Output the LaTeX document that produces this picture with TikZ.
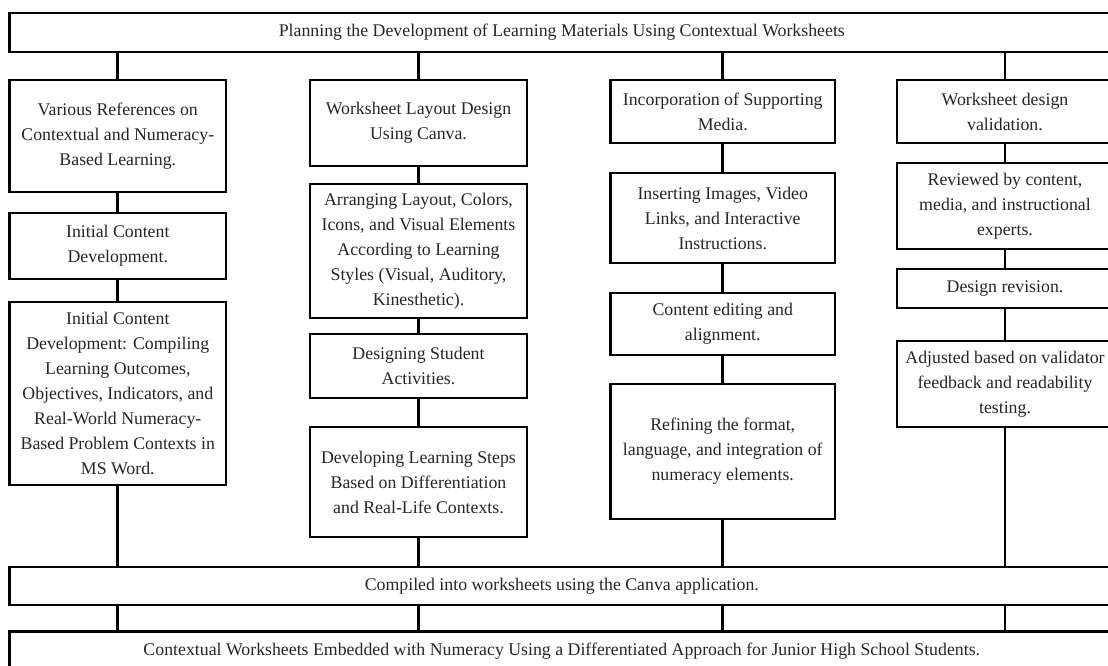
\documentclass[tikz,border=0pt]{standalone}
\usepackage{fontspec}
\setmainfont{Liberation Serif}
\begin{document}
\begin{tikzpicture}[x=1pt,y=-1pt,
  box/.style={draw=black, line width=2.9pt, fill=white, align=center, inner sep=2pt,
    text=black!85, font=\fontsize{17.8}{25}\selectfont},
  conn/.style={draw=black, line width=2.9pt}]
\useasboundingbox (0,0) rectangle (1108,666);
\clip (0,0) rectangle (1108,666);
% top and bottom bars
\node[box, minimum width=1104.4pt, minimum height=39pt] (top) at (561.8,32.5) {Planning the Development of Learning Materials Using Contextual Worksheets};
\node[box, minimum width=1104.4pt, minimum height=38pt] (comp) at (561.8,586) {Compiled into worksheets using the Canva application.};
\node[box, minimum width=1104.4pt, minimum height=39pt] (bot) at (561.8,651) {Contextual Worksheets Embedded with Numeracy Using a Differentiated Approach for Junior High School Students.};
% column 1
\node[box, minimum width=216.4pt, minimum height=112pt] (a1) at (117.8,136) {Various References on\\Contextual and Numeracy-\\Based Learning.};
\node[box, minimum width=216.4pt, minimum height=66pt] (a2) at (117.8,246) {Initial Content\\Development.};
\node[box, minimum width=216.4pt, minimum height=183pt] (a3) at (117.8,393.5) {Initial Content\\Development: Compiling\\Learning Outcomes,\\Objectives, Indicators, and\\Real-World Numeracy-\\Based Problem Contexts in\\MS Word.};
% column 2
\node[box, minimum width=217pt, minimum height=86pt] (b1) at (418.5,123) {Worksheet Layout Design\\Using Canva.};
\node[box, minimum width=217pt, minimum height=134pt] (b2) at (418.5,251) {Arranging Layout, Colors,\\Icons, and Visual Elements\\According to Learning\\Styles (Visual, Auditory,\\Kinesthetic).};
\node[box, minimum width=217pt, minimum height=64pt] (b3) at (418.5,366) {Designing Student\\Activities.};
\node[box, minimum width=217pt, minimum height=110pt] (b4) at (418.5,482) {Developing Learning Steps\\Based on Differentiation\\and Real-Life Contexts.};
% column 3
\node[box, minimum width=224.5pt, minimum height=63pt] (c1) at (722.75,111.5) {Incorporation of Supporting\\Media.};
\node[box, minimum width=224.5pt, minimum height=90pt] (c2) at (722.75,218) {Inserting Images, Video\\Links, and Interactive\\Instructions.};
\node[box, minimum width=224.5pt, minimum height=62pt] (c3) at (722.75,324) {Content editing and\\alignment.};
\node[box, minimum width=224.5pt, minimum height=135pt] (c4) at (722.75,451.5) {Refining the format,\\language, and integration of\\numeracy elements.};
% column 4
\node[box, minimum width=216pt, minimum height=63pt] (d1) at (1005,111.5) {Worksheet design\\validation.};
\node[box, minimum width=216pt, minimum height=86pt] (d2) at (1005,206) {Reviewed by content,\\media, and instructional\\experts.};
\node[box, minimum width=216pt, minimum height=39pt] (d3) at (1005,288.5) {Design revision.};
\node[box, minimum width=216pt, minimum height=86pt] (d4) at (1005,384) {Adjusted based on validator\\feedback and readability\\testing.};
% connectors from top bar
\foreach \n in {a1,b1,c1,d1} {
  \draw[conn] (\n.north |- top.south) -- (\n.north);
}
% within columns
\draw[conn] (a1) -- (a2);
\draw[conn] (a2) -- (a3);
\draw[conn] (b1) -- (b2);
\draw[conn] (b2) -- (b3);
\draw[conn] (b3) -- (b4);
\draw[conn] (c1) -- (c2);
\draw[conn] (c2) -- (c3);
\draw[conn] (c3) -- (c4);
\draw[conn] (d1) -- (d2);
\draw[conn] (d2) -- (d3);
\draw[conn] (d3) -- (d4);
% to compiled bar
\foreach \n in {a3,b4,c4,d4} {
  \draw[conn] (\n.south) -- (\n.south |- comp.north);
}
% compiled to bottom bar
\foreach \n in {a1,b1,c1,d1} {
  \draw[conn] (comp.south -| \n.south) -- (bot.north -| \n.south);
}
\end{tikzpicture}
\end{document}
